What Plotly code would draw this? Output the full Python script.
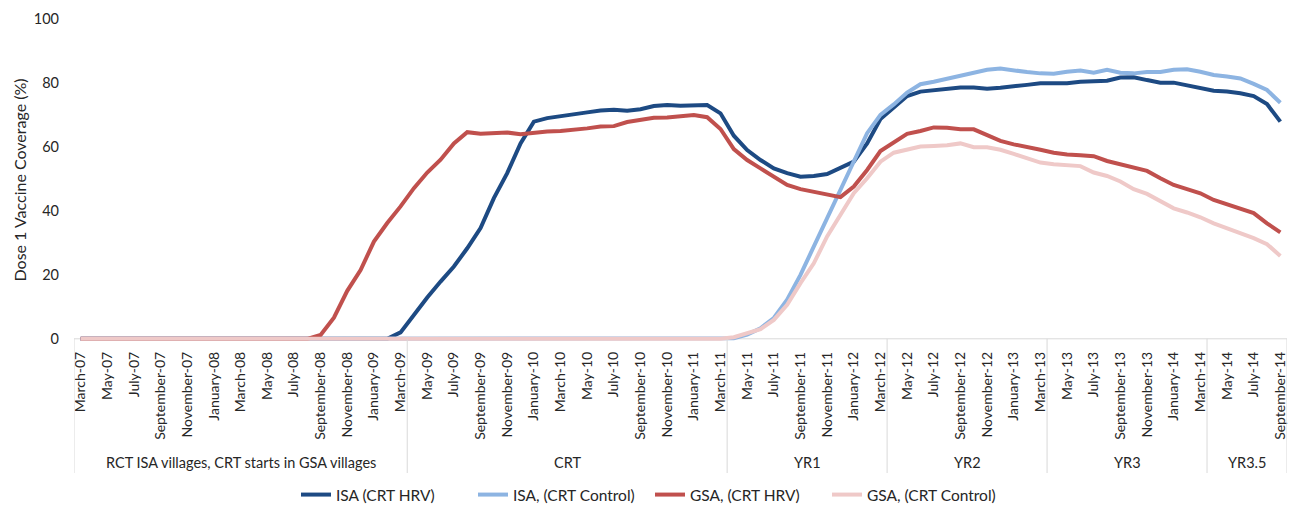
import pandas as pd
import plotly.graph_objects as go

# Monthly categories, March 2007 to September 2014
months = pd.date_range("2007-03-01", periods=91, freq="MS").strftime("%B-%y").tolist()

# Dose 1 vaccine coverage (%) per month
isa_hrv = [
    0, 0, 0, 0, 0, 0, 0, 0, 0, 0, 0, 0, 0, 0, 0, 0, 0, 0, 0, 0, 0, 0, 0, 0,
    2.0, 7.5, 12.9, 17.9, 22.6, 28.3, 34.6, 44.0, 51.8, 61.1, 67.9, 69.0,
    69.5, 70.0, 70.8, 71.4, 71.6, 71.3, 71.8, 72.8, 73.1, 72.9, 72.9, 73.1,
    70.5, 63.5, 59.0, 55.9, 53.3, 51.8, 50.7, 50.9, 51.5, 53.3, 55.4, 61.1,
    68.7, 72.3, 75.9, 77.3, 77.8, 78.3, 78.6, 78.6, 78.2, 78.5, 79.1, 79.4,
    79.9, 79.9, 79.9, 80.4, 80.6, 80.7, 81.7, 81.8, 80.9, 80.1, 80.1, 79.2,
    78.3, 77.6, 77.3, 76.8, 75.9, 73.4, 67.9,
]
isa_control = [
    0, 0, 0, 0, 0, 0, 0, 0, 0, 0, 0, 0, 0, 0, 0, 0, 0, 0, 0, 0, 0, 0, 0, 0,
    0, 0, 0, 0, 0, 0, 0, 0, 0, 0, 0, 0, 0, 0, 0, 0, 0, 0, 0, 0, 0, 0, 0, 0,
    0, 0.2, 1.3, 3.3, 6.5, 12.2, 20.0, 28.9, 37.7, 46.6, 55.4, 64.3,
    70.0, 73.3, 77.0, 79.6, 80.4, 81.4, 82.2, 83.3, 84.1, 84.5, 83.8, 83.4,
    83.0, 82.9, 83.5, 83.9, 83.2, 84.1, 83.2, 83.0, 83.4, 83.4, 84.1, 84.3,
    83.5, 82.5, 82.0, 81.4, 79.7, 77.8, 73.8,
]
gsa_hrv = [
    0, 0, 0, 0, 0, 0, 0, 0, 0, 0, 0, 0, 0, 0, 0, 0, 0, 0,
    1.2, 6.6, 15.0, 21.5, 30.4, 36.2,
    41.4, 47.1, 52.0, 56.0, 61.1, 64.6, 64.1, 64.2, 64.5, 64.0, 64.5, 64.8,
    65.0, 65.3, 65.8, 66.4, 66.5, 67.8, 68.5, 69.1, 69.2, 69.7, 70.0, 69.3,
    65.6, 59.3, 55.9, 53.3, 50.7, 48.1, 46.8, 46.0, 45.2, 44.3, 47.6, 52.8,
    58.7, 61.4, 64.1, 65.0, 66.1, 66.0, 65.5, 65.5, 63.8, 61.9, 60.8, 60.1,
    59.1, 58.2, 57.6, 57.4, 57.1, 55.6, 54.6, 53.5, 52.5, 50.2, 48.1, 46.8,
    45.5, 43.4, 42.1, 40.6, 39.3, 36.1, 33.3,
]
gsa_control = [
    0, 0, 0, 0, 0, 0, 0, 0, 0, 0, 0, 0, 0, 0, 0, 0, 0, 0, 0, 0, 0, 0, 0, 0,
    0, 0, 0, 0, 0, 0, 0, 0, 0, 0, 0, 0, 0, 0, 0, 0, 0, 0, 0, 0, 0, 0, 0, 0,
    0, 0.5, 1.6, 3.0, 5.9, 10.6, 17.4, 23.6, 32.0, 38.8, 45.5, 50.2,
    55.4, 58.2, 59.0, 60.1, 60.3, 60.5, 61.1, 59.9, 59.9, 59.1, 57.8, 56.5,
    55.1, 54.6, 54.4, 54.0, 52.0, 50.9, 49.2, 46.8, 45.3, 42.9, 40.8, 39.5,
    38.0, 36.1, 34.6, 33.3, 31.5, 29.6, 25.9,
]

# Study phases: label and number of months in each
phase_labels = ["RCT ISA villages, CRT starts in GSA villages", "CRT", "YR1", "YR2", "YR3", "YR3.5"]
phase_months = [25, 24, 12, 12, 12, 6]

series = [
    ("ISA (CRT HRV)", isa_hrv, "#1D4A83"),
    ("ISA, (CRT Control)", isa_control, "#8DB4E2"),
    ("GSA, (CRT HRV)", gsa_hrv, "#C0504D"),
    ("GSA, (CRT Control)", gsa_control, "#EFC9C8"),
]

FONT = "Lato, 'Open Sans', sans-serif"
TXT = "#262626"

x = list(range(len(months)))
fig = go.Figure()
for name, vals, color in series:
    fig.add_trace(go.Scatter(
        x=x, y=vals, name=name, mode="lines",
        line=dict(color=color, width=4),
    ))

# plot area geometry in pixels (used for paper-coordinate placement below)
W, H = 1290, 506
ML, MR, MT, MB = 74, 3, 19, 164
plot_h = H - MT - MB
y_range = [-1, 100]
px_per_unit = plot_h / (y_range[1] - y_range[0])
zero_px = MT + (y_range[1] - 0) * px_per_unit


def paper_y(px):
    return (H - MB - px) / plot_h


shapes = [dict(type="line", xref="x", yref="y", x0=-0.5, x1=len(months) - 0.5, y0=0, y1=0,
               line=dict(color="#D9D9D9", width=1), layer="below")]
annotations = []
start = 0
bounds = [-0.5]
for label, n in zip(phase_labels, phase_months):
    end = start + n
    bounds.append(end - 0.5)
    annotations.append(dict(
        x=(start + end - 1) / 2, xref="x", y=paper_y(462), yref="paper",
        text=label, showarrow=False, font=dict(size=14.5, color=TXT, family=FONT),
        xanchor="center", yanchor="middle",
    ))
    start = end
for b in bounds:
    shapes.append(dict(type="line", xref="x", yref="paper", x0=b, x1=b,
                       y0=paper_y(zero_px), y1=paper_y(473),
                       line=dict(color="#D9D9D9", width=1)))

annotations.append(dict(
    x=(19 - ML) / (W - ML - MR), xref="paper", y=0.5, yref="paper",
    text="Dose 1 Vaccine Coverage (%)", textangle=-90, showarrow=False,
    font=dict(size=16, color=TXT, family=FONT), xanchor="center", yanchor="middle",
))

fig.update_layout(
    width=W, height=H,
    margin=dict(l=ML, r=MR, t=MT, b=MB),
    paper_bgcolor="white", plot_bgcolor="white",
    font=dict(family=FONT, size=14, color=TXT),
    shapes=shapes, annotations=annotations,
    legend=dict(orientation="h", xref="container", yref="container",
                x=650 / W, y=1 - 495 / H, xanchor="center", yanchor="middle",
                entrywidth=132, entrywidthmode="pixels",
                font=dict(size=15.5, family=FONT, color=TXT)),
)
fig.update_xaxes(
    range=[-0.5, len(months) - 0.5], tickmode="array",
    tickvals=x[::2], ticktext=months[::2], tickangle=-90,
    showgrid=False, zeroline=False, showline=False, ticks="",
    ticklabelstandoff=6, tickfont=dict(size=14, family=FONT, color=TXT),
)
fig.update_yaxes(
    range=y_range, tickmode="array", tickvals=[0, 20, 40, 60, 80, 100],
    showgrid=False, zeroline=False, showline=False, ticks="",
    ticklabelstandoff=14, tickfont=dict(size=14.5, family=FONT, color=TXT),
)

fig.write_html("out.html")
